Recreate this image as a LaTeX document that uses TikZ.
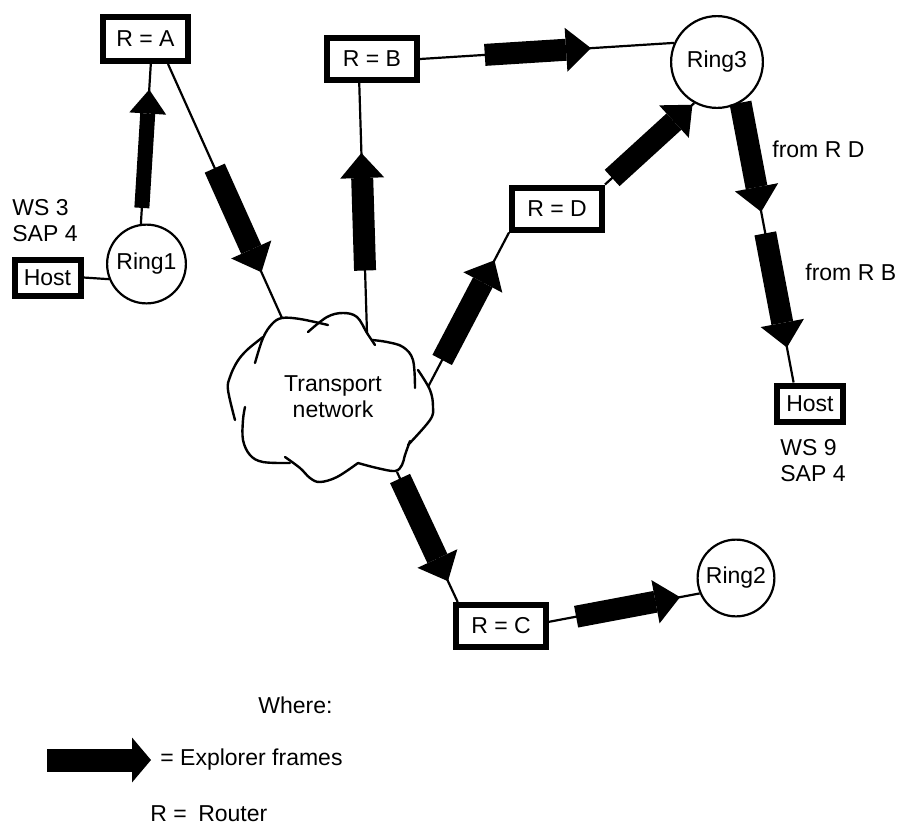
\documentclass[tikz,border=0pt]{standalone}
\usepackage{fontspec}
\setmainfont{Liberation Sans}
\usetikzlibrary{arrows.meta,calc}
\begin{document}
\begin{tikzpicture}[x=0.5pt,y=-0.5pt,
  font=\fontsize{11.5}{13}\selectfont,
  router/.style={draw,line width=3pt,minimum width=45pt,minimum height=21pt,inner sep=0pt},
  hostbox/.style={draw,line width=3pt,minimum width=33pt,minimum height=18pt,inner sep=0pt},
  ring/.style={draw,circle,line width=1.1pt,inner sep=0pt},
  link/.style={line width=1.1pt},
  cloudline/.style={line width=1.2pt,line cap=round},
  flow/.style={line width=11pt,-{Triangle[length=12.5pt,width=22pt,line width=0pt]}},
  thinflow/.style={line width=7.5pt,-{Triangle[length=12pt,width=18.5pt,line width=0pt]}},
  legendflow/.style={line width=11.5pt,-{Triangle[length=9.5pt,width=22.5pt,line width=0pt]}},
  label/.style={inner sep=0pt,align=left}
]
\useasboundingbox (0,0) rectangle (902,826);

% routers, hosts and rings
\node[router,minimum width=42.5pt,minimum height=22pt] (ra) at (145.5,39) {R = A};
\node[router] (rb) at (372,59) {R = B};
\node[router] (rd) at (557,208.5) {R = D};
\node[router] (rc) at (501,626) {R = C};
\node[hostbox] (h1) at (47.5,277.5) {Host};
\node[hostbox] (h2) at (810,403.5) {Host};
\node[ring,minimum size=39.4pt] (ring1) at (146.5,264) {Ring1};
\node[ring,minimum size=45.9pt] (ring3) at (717,62) {Ring3};
\node[ring,minimum size=38.4pt] (ring2) at (736,578) {Ring2};

% transport network cloud, drawn as loose strokes
\node[align=center,inner sep=0pt] (net) at (333,397) {Transport\\network};
\draw[cloudline] plot[smooth,tension=0.6] coordinates {(255,363) (263,338) (272,324) (282,318) (300,319) (328,325)};
\draw[cloudline] plot[smooth,tension=0.6] coordinates {(308,332) (327,317) (343,313) (357,317) (367,333) (375,345)};
\draw[cloudline] plot[smooth,tension=0.6] coordinates {(372,340) (387,342) (403,347) (413,360) (415,388)};
\draw[cloudline] plot[smooth,tension=0.6] coordinates {(418,370) (430,390) (433,407) (430,420) (408,445)};
\draw[cloudline] plot[smooth,tension=0.6] coordinates {(410,441) (405,455) (402,465) (395,471) (377,468) (358,463)};
\draw[cloudline] plot[smooth,tension=0.6] coordinates {(358,463) (337,477) (320,482) (310,478) (300,468) (285,457)};
\draw[cloudline] plot[smooth,tension=0.6] coordinates {(290,463) (263,462) (250,455) (243,440) (243,420) (245,407)};
\draw[cloudline] plot[smooth,tension=0.6] coordinates {(235,420) (228,390) (230,377) (237,362) (247,350) (263,337)};
\coordinate (cA) at (282,318);
\coordinate (cB) at (367,333);
\coordinate (cD) at (428,387);
\coordinate (cC) at (397,472);

% links
\draw[link] (h1.east) -- (ring1.-158);
\draw[link] (ring1.98) -- (ra.-78);
\draw[link] (ra.-48) -- (cA);
\draw[link] (cB) -- (rb.-118);
\draw[link] (rb.east) -- (ring3.156);
\draw[link] (cD) -- (rd.south west);
\draw[link] (rd.north east) -- (ring3.-119);
\draw[link] (ring3.-60) -- (h2.128);
\draw[link] (cC) -- (rc.151);
\draw[link] (rc.5) -- (ring2.-157);

% explorer frames
\draw[thinflow] ($(ring1.98)!0.10!(ra.-78)$) -- ($(ring1.98)!0.84!(ra.-78)$);
\draw[flow] ($(ra.-48)!0.41!(cA)$) -- ($(ra.-48)!0.82!(cA)$);
\draw[flow] ($(cB)!0.25!(rb.-118)$) -- ($(cB)!0.72!(rb.-118)$);
\draw[flow] ($(rb.east)!0.255!(ring3.156)$) -- ($(rb.east)!0.673!(ring3.156)$);
\draw[flow] ($(cD)!0.175!(rd.south west)$) -- ($(cD)!0.82!(rd.south west)$);
\draw[flow] ($(rd.north east)!0.08!(ring3.-119)$) -- ($(rd.north east)!0.98!(ring3.-119)$);
\draw[flow] ($(ring3.-60)!0.0!(h2.128)$) -- ($(ring3.-60)!0.39!(h2.128)$);
\draw[flow] ($(ring3.-60)!0.467!(h2.128)$) -- ($(ring3.-60)!0.875!(h2.128)$);
\draw[flow] ($(cC)!0.05!(rc.151)$) -- ($(cC)!0.84!(rc.151)$);
\draw[flow] ($(rc.5)!0.18!(ring2.-157)$) -- ($(rc.5)!0.87!(ring2.-157)$);

% text labels
\node[label,anchor=west] (ws3) at (12,221) {WS 3\\SAP 4};
\node[label,anchor=west] (ws9) at (780,461) {WS 9\\SAP 4};
\node[label,anchor=base west] (frd) at (772,157) {from R D};
\node[label,anchor=base west] (frb) at (805,280) {from R B};

% legend
\node[label,anchor=base west] (where) at (258,713) {Where:};
\coordinate (lg1) at (47,760);
\coordinate (lg2) at (151,760);
\draw[legendflow] (lg1) -- (lg2);
\node[label,anchor=base west] (expl) at (160,765) {= Explorer frames};
\node[label,anchor=base west] (rtr) at (150,821) {R =\hspace{0.5em}Router};
\end{tikzpicture}
\end{document}
